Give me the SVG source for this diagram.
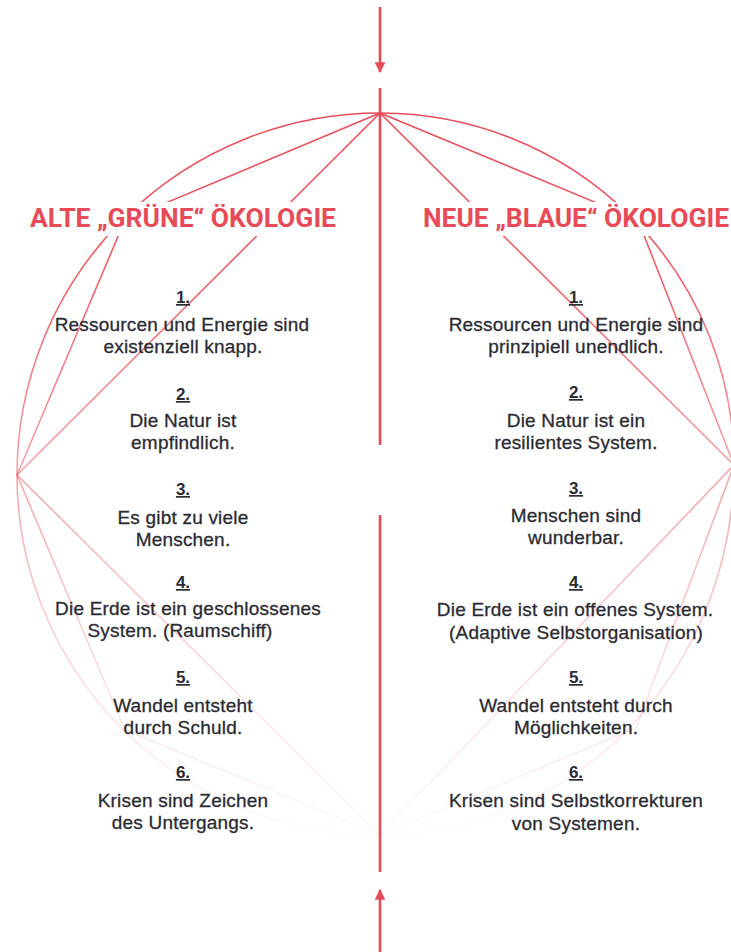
<svg xmlns="http://www.w3.org/2000/svg" width="731" height="952" viewBox="0 0 731 952">
  <defs>
    <style>
      .axis { stroke: #e64b57; stroke-width: 2.6; fill: none; }
      .web { stroke: url(#fade); stroke-width: 1.6; fill: none; }
      .head { font-family: Roboto, "Liberation Sans", sans-serif; font-weight: 700; font-size: 26px; fill: #e64b57; text-anchor: middle; }
      .num { font-family: "Liberation Sans", Arial, sans-serif; font-weight: 700; font-size: 17px; fill: #2b2b33; text-anchor: middle; text-decoration: underline; }
      .txt { font-family: "Liberation Sans", Arial, sans-serif; font-size: 19px; letter-spacing: 0.2px; fill: #2b2b33; stroke: #2b2b33; stroke-width: 0.3px; text-anchor: middle; }
    </style>
    <linearGradient id="fade" gradientUnits="userSpaceOnUse" x1="0" y1="113" x2="0" y2="835">
      <stop offset="0" stop-color="#e64b57" stop-opacity="1"/>
      <stop offset="0.25" stop-color="#e64b57" stop-opacity="0.85"/>
      <stop offset="0.5" stop-color="#e64b57" stop-opacity="0.5"/>
      <stop offset="0.8" stop-color="#e64b57" stop-opacity="0.18"/>
      <stop offset="1" stop-color="#e64b57" stop-opacity="0.03"/>
    </linearGradient>
    <marker id="head" viewBox="0 0 10 10" refX="9" refY="5" markerWidth="4.2" markerHeight="4.2" orient="auto" markerUnits="strokeWidth">
      <path d="M0,0 L10,5 L0,10 z" fill="#e64b57"/>
    </marker>
  </defs>

  <rect width="731" height="952" fill="#ffffff"/>

  <!-- connectors: outer ellipse, bent chords and straight chords between the four poles -->
  <g id="connectors">
    <!-- upper left quarter -->
    <path class="web" d="M380,113 A363,362 0 0 0 17,475"/>
    <path class="web" d="M380,113 L125,220 L17,475"/>
    <path class="web" d="M380,113 L17,475"/>
    <!-- lower left quarter -->
    <path class="web" d="M17,475 A363,360 0 0 0 380,835"/>
    <path class="web" d="M17,475 L125,730 L380,835"/>
    <path class="web" d="M17,475 L380,835"/>
    <!-- upper right quarter -->
    <path class="web" d="M380,113 A354,352 0 0 1 734,465"/>
    <path class="web" d="M380,113 L638,220 L734,465"/>
    <path class="web" d="M380,113 L734,465"/>
    <!-- lower right quarter -->
    <path class="web" d="M734,465 A354,370 0 0 1 380,835"/>
    <path class="web" d="M734,465 L636,728 L380,835"/>
    <path class="web" d="M734,465 L380,835"/>

    <!-- central axis -->
    <line class="axis" x1="380" y1="88" x2="380" y2="445"/>
    <line class="axis" x1="380" y1="515" x2="380" y2="872"/>
    <!-- incoming arrows -->
    <line class="axis" x1="380" y1="7" x2="380" y2="72" marker-end="url(#head)"/>
    <line class="axis" x1="380" y1="952" x2="380" y2="890" marker-end="url(#head)"/>
  </g>

  <!-- headings on white plates -->
  <g id="heading-old">
    <rect x="20" y="202" width="330" height="34" fill="#ffffff"/>
    <text class="head" x="183" y="227" textLength="306" lengthAdjust="spacingAndGlyphs">ALTE „GRÜNE“ ÖKOLOGIE</text>
  </g>
  <g id="heading-new">
    <rect x="415" y="202" width="316" height="34" fill="#ffffff"/>
    <text class="head" x="576" y="227" textLength="306" lengthAdjust="spacingAndGlyphs">NEUE „BLAUE“ ÖKOLOGIE</text>
  </g>

  <!-- old ecology theses -->
  <g id="old-1"><text class="num" x="183" y="303">1.</text><text class="txt" x="182" y="331">Ressourcen und Energie sind</text><text class="txt" x="183" y="353">existenziell knapp.</text></g>
  <g id="old-2"><text class="num" x="183" y="400">2.</text><text class="txt" x="183" y="427">Die Natur ist</text><text class="txt" x="183" y="449">empfindlich.</text></g>
  <g id="old-3"><text class="num" x="183" y="495">3.</text><text class="txt" x="183" y="524">Es gibt zu viele</text><text class="txt" x="183" y="546">Menschen.</text></g>
  <g id="old-4"><text class="num" x="183" y="588">4.</text><text class="txt" x="188" y="615">Die Erde ist ein geschlossenes</text><text class="txt" x="180" y="637">System. (Raumschiff)</text></g>
  <g id="old-5"><text class="num" x="183" y="683">5.</text><text class="txt" x="183" y="712">Wandel entsteht</text><text class="txt" x="183" y="734">durch Schuld.</text></g>
  <g id="old-6"><text class="num" x="183" y="778">6.</text><text class="txt" x="183" y="807">Krisen sind Zeichen</text><text class="txt" x="183" y="829">des Untergangs.</text></g>

  <!-- new ecology theses -->
  <g id="new-1"><text class="num" x="576" y="303">1.</text><text class="txt" x="576" y="331">Ressourcen und Energie sind</text><text class="txt" x="576" y="353">prinzipiell unendlich.</text></g>
  <g id="new-2"><text class="num" x="576" y="398">2.</text><text class="txt" x="576" y="427">Die Natur ist ein</text><text class="txt" x="576" y="449">resilientes System.</text></g>
  <g id="new-3"><text class="num" x="576" y="494">3.</text><text class="txt" x="576" y="522">Menschen sind</text><text class="txt" x="576" y="544">wunderbar.</text></g>
  <g id="new-4"><text class="num" x="576" y="588">4.</text><text class="txt" x="575" y="616">Die Erde ist ein offenes System.</text><text class="txt" x="576" y="639">(Adaptive Selbstorganisation)</text></g>
  <g id="new-5"><text class="num" x="576" y="683">5.</text><text class="txt" x="576" y="712">Wandel entsteht durch</text><text class="txt" x="576" y="734">Möglichkeiten.</text></g>
  <g id="new-6"><text class="num" x="576" y="778">6.</text><text class="txt" x="576" y="807">Krisen sind Selbstkorrekturen</text><text class="txt" x="576" y="830">von Systemen.</text></g>
</svg>
